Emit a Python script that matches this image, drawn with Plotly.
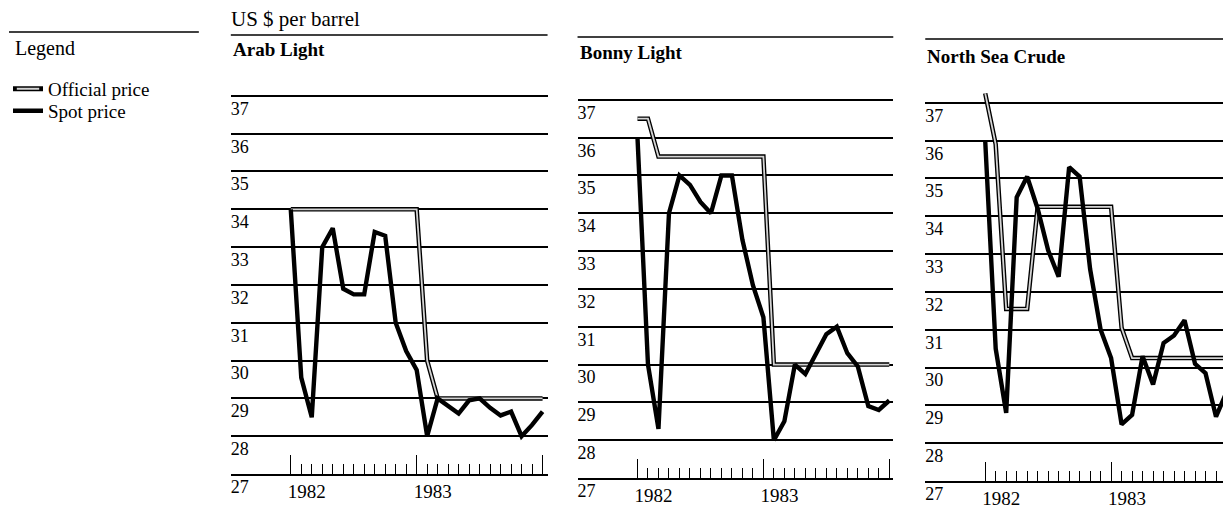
import plotly.graph_objects as go

# ---------------- data ----------------
# x position: month index, 0 = January 1982, 12 = January 1983, 24 = January 1984
months = [0, 1, 2, 3, 4, 5, 6, 7, 8, 9, 10, 11, 12,
          13, 14, 15, 16, 17, 18, 19, 20, 21, 22, 23, 24]

year_tick_months = [0, 12, 24]
year_tick_labels = ["1982", "1983", ""]
month_tick_months = [1, 2, 3, 4, 5, 6, 7, 8, 9, 10, 11,
                     13, 14, 15, 16, 17, 18, 19, 20, 21, 22, 23]
price_ticks = [27, 28, 29, 30, 31, 32, 33, 34, 35, 36, 37]

panel_titles = ["Arab Light", "Bonny Light", "North Sea Crude"]

arab_official = [34, 34, 34, 34, 34, 34, 34, 34, 34, 34, 34, 34, 34,
                 30, 29, 29, 29, 29, 29, 29, 29, 29, 29, 29, 29]
arab_spot = [34.0, 29.55, 28.5, 33.0, 33.5, 31.9, 31.75, 31.75, 33.4, 33.3, 31.0, 30.25, 29.75,
             28.0, 29.0, 28.8, 28.6, 28.95, 29.0, 28.75, 28.55, 28.65, 28.0, 28.3, 28.65]

bonny_official = [36.5, 36.5, 35.5, 35.5, 35.5, 35.5, 35.5, 35.5, 35.5, 35.5, 35.5, 35.5, 35.5,
                  30, 30, 30, 30, 30, 30, 30, 30, 30, 30, 30, 30]
bonny_spot = [36.0, 30.0, 28.3, 34.0, 35.0, 34.75, 34.3, 34.0, 35.0, 35.0, 33.3, 32.1, 31.25,
              28.0, 28.5, 30.0, 29.75, 30.25, 30.8, 31.0, 30.3, 29.95, 28.9, 28.8, 29.05]

northsea_official = [37.25, 35.9, 31.55, 31.55, 31.55, 34.25, 34.25, 34.25, 34.25, 34.25, 34.25, 34.25, 34.25,
                     31.05, 30.25, 30.25, 30.25, 30.25, 30.25, 30.25, 30.25, 30.25, 30.25, 30.25, 30.25]
northsea_spot = [36.0, 30.5, 28.8, 34.5, 35.05, 34.2, 33.1, 32.4, 35.3, 35.05, 32.6, 31.0, 30.25,
                 28.5, 28.75, 30.3, 29.55, 30.65, 30.85, 31.25, 30.1, 29.85, 28.7, 29.35, 29.45]

official_series = [arab_official, bonny_official, northsea_official]
spot_series = [arab_spot, bonny_spot, northsea_spot]

# ---------------- layout geometry ----------------
W, H = 1231, 511
FONT = "Liberation Serif"
# page offset / effective drawing size observed in the rendering
OFF_X, OFF_Y = 8, 8
W_EFF, H_EFF = 1231, 489


def fx(px):
    return (px - OFF_X) / W_EFF


def fy(py):
    return 1 - (py - OFF_Y) / H_EFF


Y_TOP = 37.5
panels = [
    dict(x0=230, x1=547, tick0=290, y27=475, y37=96, title_y=50, rule_y=35),
    dict(x0=577, x1=893, tick0=637, y27=479, y37=100, title_y=53, rule_y=37),
    dict(x0=925, x1=1240, tick0=985, y27=482, y37=103, title_y=57, rule_y=39),
]

fig = go.Figure()
layout = dict(
    width=W, height=H,
    margin=dict(l=0, r=0, t=0, b=0),
    paper_bgcolor="white", plot_bgcolor="white",
    font=dict(family=FONT, color="black", size=18),
    annotations=[], shapes=[],
)

for i, p in enumerate(panels):
    n = "" if i == 0 else str(i + 1)
    xa, ya = "x" + n, "y" + n
    ppu = (p["y27"] - p["y37"]) / 10.0
    ytop_px = p["y37"] - (Y_TOP - 37) * ppu
    px_per_month = 10.5
    xl = (p["x0"] - p["tick0"]) / px_per_month
    x1 = min(p["x1"], OFF_X + W_EFF)
    xr = (x1 - p["tick0"]) / px_per_month

    off = official_series[i]
    spot = spot_series[i]
    fig.add_trace(go.Scatter(x=months, y=off, mode="lines", xaxis=xa, yaxis=ya,
                             line=dict(color="black", width=4.5), showlegend=False,
                             hoverinfo="skip"))
    fig.add_trace(go.Scatter(x=months, y=off, mode="lines", xaxis=xa, yaxis=ya,
                             line=dict(color="#d4d4d4", width=1.8), showlegend=False,
                             name="Official price"))
    fig.add_trace(go.Scatter(x=months, y=spot, mode="lines", xaxis=xa, yaxis=ya,
                             line=dict(color="black", width=4.4), showlegend=False,
                             name="Spot price"))

    layout["xaxis" + n] = dict(
        domain=[fx(p["x0"]), fx(x1)], range=[xl, xr], anchor=ya,
        showgrid=False, zeroline=False, showline=True, linecolor="black", linewidth=1.6,
        ticks="inside", ticklen=19, tickwidth=1.3, tickcolor="black",
        tickmode="array", tickvals=year_tick_months, ticktext=year_tick_labels,
        ticklabelshift=16, ticklabelstandoff=-1,
        tickfont=dict(family=FONT, size=19, color="black"),
        minor=dict(tickmode="array", tickvals=month_tick_months, ticks="inside",
                   ticklen=10, tickwidth=1.3, tickcolor="black", showgrid=False),
        fixedrange=True,
    )
    layout["yaxis" + n] = dict(
        domain=[fy(p["y27"]), fy(ytop_px)], range=[27, Y_TOP], anchor=xa,
        showgrid=True, gridcolor="black", gridwidth=1.5, zeroline=False, showline=False,
        ticks="", tickmode="array", tickvals=price_ticks,
        ticklabelposition="inside bottom", ticklabeloverflow="allow",
        ticklabelstandoff=-3,
        tickfont=dict(family=FONT, size=18, color="black"),
        fixedrange=True,
    )
    layout["annotations"].append(dict(
        text="<b>" + panel_titles[i] + "</b>", xref="paper", yref="paper",
        x=fx(p["x0"]), y=fy(p["title_y"]), xanchor="left", yanchor="middle",
        showarrow=False, font=dict(family=FONT, size=19, color="black")))
    layout["shapes"].append(dict(type="line", xref="paper", yref="paper",
                                 x0=fx(p["x0"]), x1=fx(x1),
                                 y0=fy(p["rule_y"]), y1=fy(p["rule_y"]),
                                 line=dict(color="black", width=1.5)))

# header texts and legend rule
layout["annotations"].append(dict(
    text="US $ per barrel", xref="paper", yref="paper", x=fx(228), y=fy(19),
    xanchor="left", yanchor="middle", showarrow=False,
    font=dict(family=FONT, size=21, color="black")))
layout["annotations"].append(dict(
    text="Legend", xref="paper", yref="paper", x=fx(12), y=fy(49),
    xanchor="left", yanchor="middle", showarrow=False,
    font=dict(family=FONT, size=20, color="black")))
layout["shapes"].append(dict(type="line", xref="paper", yref="paper",
                             x0=fx(8), x1=fx(198), y0=fy(32), y1=fy(32),
                             line=dict(color="black", width=1.5)))

# legend entries (legend-only traces), one legend box per entry
fig.add_trace(go.Scatter(x=[None], y=[None], mode="lines+markers", name="Official price",
                         line=dict(color="black", width=5),
                         marker=dict(symbol="line-ew", size=16,
                                     line=dict(color="#d4d4d4", width=2)),
                         legend="legend", showlegend=True))
fig.add_trace(go.Scatter(x=[None], y=[None], mode="lines", name="Spot price",
                         line=dict(color="black", width=4.5),
                         legend="legend2", showlegend=True))

leg_common = dict(xref="paper", yref="paper", xanchor="left", yanchor="middle",
                  bgcolor="rgba(0,0,0,0)", borderwidth=0, itemwidth=30,
                  font=dict(family=FONT, size=19, color="black"))
layout["legend"] = dict(x=fx(7), y=fy(89), **leg_common)
layout["legend2"] = dict(x=fx(7), y=fy(111), **leg_common)

fig.update_layout(**layout)
fig.write_html("out.html")
